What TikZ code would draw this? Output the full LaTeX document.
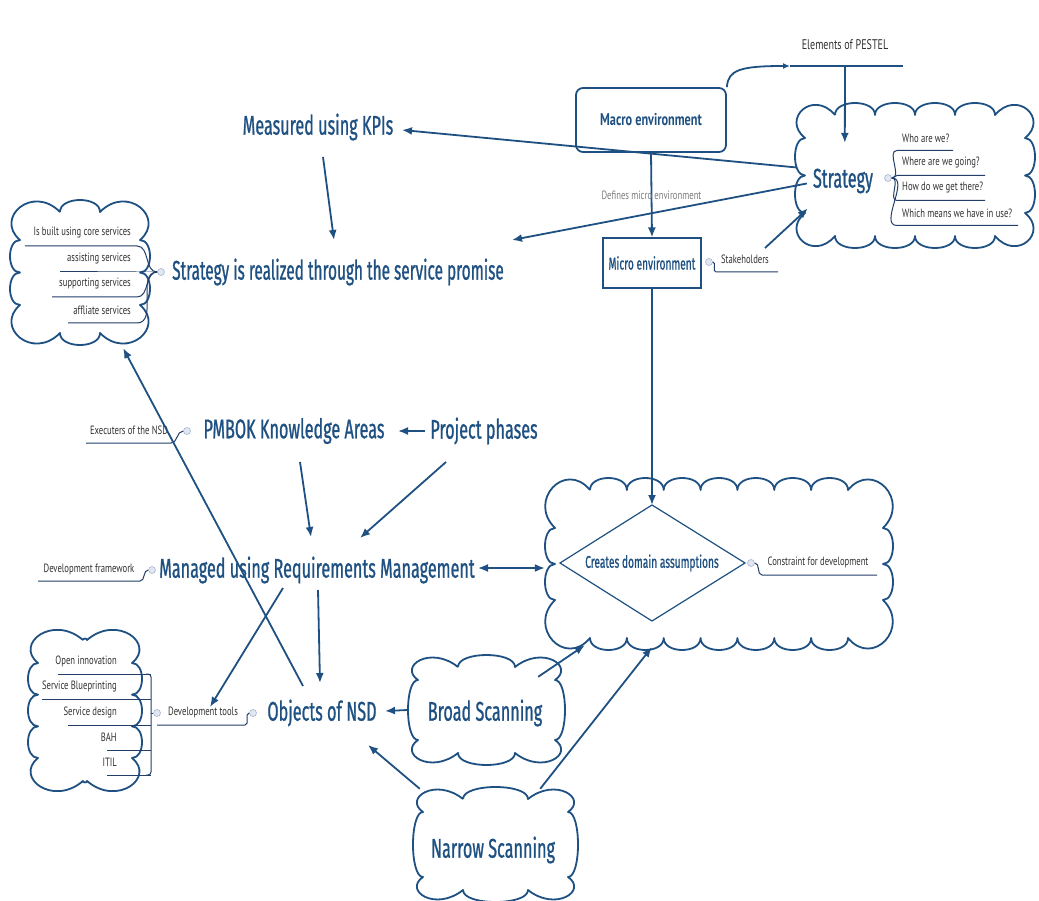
\documentclass[tikz,border=0pt]{standalone}
\usepackage{fontspec}
\setmainfont{PT Sans}
\newfontfamily\handfont[FakeStretch=0.6,FakeBold=0.8]{Fira Sans}
\newfontfamily\labelfont[FakeStretch=0.72]{PT Sans}
\usetikzlibrary{arrows.meta,calc}

\definecolor{ink}{RGB}{30,80,130}
\definecolor{leafink}{RGB}{35,62,105}
\definecolor{txt}{RGB}{50,50,50}
\definecolor{note}{RGB}{125,125,125}
\definecolor{knobline}{RGB}{170,182,205}
\definecolor{knobfill}{RGB}{225,231,242}

\tikzset{
  every node/.style={inner sep=2pt},
  cloudline/.style={draw=ink, line width=1.8pt, line join=round},
  cloudarea/.style={rectangle, inner sep=0pt, draw=none},
  arr/.style={draw=ink, line width=1.8pt, -{Latex[length=10pt,width=8pt]}},
  twoway/.style={draw=ink, line width=1.8pt, {Latex[length=10pt,width=8pt]}-{Latex[length=10pt,width=8pt]}},
  head/.style={text=ink, font=\handfont\fontsize{27}{27}\selectfont},
  midhead/.style={text=ink, font=\handfont\fontsize{17}{17}\selectfont},
  small/.style={text=txt, font=\labelfont\fontsize{12}{13}\selectfont},
  branch/.style={draw=leafink, line width=1pt},
  knob/.style={circle, draw=knobline, fill=knobfill, minimum size=7pt, inner sep=0pt, line width=0.6pt},
}

% scalloped outline whose bumps reach the box (#2,#3)-(#4,#5):
% #6 bumps along top/bottom, #7 bumps along the sides,
% #8 and #9 horizontal and vertical reach of the corner bumps
\newcommand\cloudbox[9]{%
  \pgfmathsetmacro\cxa{#2+#8}%
  \pgfmathsetmacro\cxb{#4-#8}%
  \pgfmathsetmacro\cya{#3+#9}%
  \pgfmathsetmacro\cyb{#5-#9}%
  \pgfmathsetmacro\cdx{(\cxb-\cxa)/#6}%
  \pgfmathsetmacro\cdy{(\cyb-\cya)/#7}%
  \pgfmathsetmacro\hh{4/3*min(12,0.35*\cdx)}%
  \pgfmathsetmacro\hv{4/3*min(10,0.35*\cdy)}%
  \pgfmathsetmacro\ty{#3+12}%
  \pgfmathsetmacro\by{#5-12}%
  \pgfmathsetmacro\lx{#2+10}%
  \pgfmathsetmacro\rx{#4-10}%
  \pgfmathsetmacro\cm{0.4*min(#8,#9)}%
  \pgfmathsetmacro\cbx{0.45*#8}%
  \pgfmathsetmacro\cby{0.45*#9}%
  \draw[cloudline] (\cxa,\ty)
    \foreach \i in {1,...,#6}{
      .. controls ({\cxa+(\i-1)*\cdx},{\ty-\hh}) and ({\cxa+\i*\cdx},{\ty-\hh}) .. ({\cxa+\i*\cdx},\ty)}
    .. controls ({#4-\cbx},{#3-\cm}) and ({#4+\cm},{#3+\cby}) .. (\rx,\cya)
    \foreach \i in {1,...,#7}{
      .. controls ({\rx+\hv},{\cya+(\i-1)*\cdy}) and ({\rx+\hv},{\cya+\i*\cdy}) .. (\rx,{\cya+\i*\cdy})}
    .. controls ({#4+\cm},{#5-\cby}) and ({#4-\cbx},{#5+\cm}) .. (\cxb,\by)
    \foreach \i in {1,...,#6}{
      .. controls ({\cxb-(\i-1)*\cdx},{\by+\hh}) and ({\cxb-\i*\cdx},{\by+\hh}) .. ({\cxb-\i*\cdx},\by)}
    .. controls ({#2+\cbx},{#5+\cm}) and ({#2-\cm},{#5-\cby}) .. (\lx,\cyb)
    \foreach \i in {1,...,#7}{
      .. controls ({\lx-\hv},{\cyb-(\i-1)*\cdy}) and ({\lx-\hv},{\cyb-\i*\cdy}) .. (\lx,{\cyb-\i*\cdy})}
    .. controls ({#2-\cm},{#3+\cby}) and ({#2+\cbx},{#3-\cm}) .. (\cxa,\ty);
  \node[cloudarea, minimum width={(#4-#2)*1pt}, minimum height={(#5-#3)*1pt}] (#1) at ({(#2+#4)/2},{(#3+#5)/2}) {};
}

\begin{document}
\begin{tikzpicture}[x=1pt,y=-1pt]
\useasboundingbox[fill=white] (0,0) rectangle (1039,901);

% ---------- cloud outlines ----------
\cloudbox{scl}{795}{103}{1035}{248}{4}{2}{40}{35}
\cloudbox{svc}{10}{200}{150}{345}{1}{2}{50}{40}
\cloudbox{dom}{545}{478}{893}{650}{7}{2}{45}{50}
\cloudbox{tools}{28}{628}{142}{793}{1}{3}{55}{35}
\cloudbox{broad}{408}{655}{565}{765}{1}{1}{50}{25}
\cloudbox{narrow}{413}{787}{578}{902}{1}{1}{50}{25}

% ---------- environment boxes ----------
\node[draw=ink, line width=1.8pt, rounded corners=7pt, minimum width=150pt, minimum height=64pt,
      text=ink, font=\labelfont\bfseries\fontsize{17}{17}\selectfont] (macro) at (651,120) {Macro environment};
\node[draw=ink, line width=1.2pt, minimum width=98pt, minimum height=50pt, midhead] (micro) at (652,263) {Micro environment};
\node[small, font=\labelfont\fontsize{14}{14}\selectfont] (pestel) at (845,45) {Elements of PESTEL};
\coordinate (pestelL) at (790,66);
\coordinate (pestelM) at (845,66);
\coordinate (pestelR) at (903,66);
\draw[draw=ink, line width=1.8pt] (pestelL) -- (pestelR);
\draw[arr, -{Latex[length=7pt,width=6pt]}] (macro.north east) .. controls (728,70) and (740,66) .. (pestelL);
\draw[arr] (pestelM) -- ($(scl.north west)+(50,40)$);
\draw[arr] (macro.south) -- node[small, text=note, pos=0.5] (defines) {Defines micro environment} (micro.north);

% stakeholders branch of the micro environment
\node[knob] (kmicro) at (709,262) {};
\node[small] (stake) at (745,259) {Stakeholders};
\coordinate (stakeA) at (716,272);
\coordinate (stakeB) at (778,272);
\draw[branch] (kmicro.east) to[out=0,in=180] (stakeA) -- (stakeB);
\draw[arr] ($(stake)+(20,-11)$) -- ($(scl.west)+(13,33)$);

% ---------- strategy ----------
\node[head] (strat) at (843,181) {Strategy};
\node[knob] (kstrat) at (888,178) {};
\foreach \t/\y/\e [count=\n] in {Who are we?/138/953, Where are we going?/163/985,
    How do we get there?/188/985, Which means we have in use?/213/1018}{
  \node[small, anchor=west] (q\n) at (900,\y) {\t};
  \draw[branch] (kstrat.east) to[out=0,in=180] (897,\y+12.5) -- (\e,\y+12.5);
}

% ---------- service promise ----------
\node[head] (kpi) at (318,127) {Measured using KPIs};
\node[head] (promise) at (338,272) {\scalebox{0.95}[1]{Strategy is realized through the service promise}};
\node[knob] (kpromise) at (161,272) {};
\foreach \t/\y/\s [count=\n] in {Is built using core services/233/25, assisting services/259/60,
    supporting services/284/52, affliate services/310/68}{
  \node[small, anchor=east] (svc\n) at (133,\y) {\t};
  \draw[branch] (\s,\y+13) -- (137,\y+13) to[out=0,in=180] (kpromise.west);
}
\draw[arr] ($(scl.west)+(2,-8)$) -- ($(kpi)+(84,3)$);
\draw[arr] ($(scl.west)+(12,8)$) -- ($(promise)+(174,-32)$);
\draw[arr] ($(kpi)+(5,30)$) -- ($(promise)+(-4,-32)$);

% ---------- project management ----------
\node[head] (pmbok) at (294,431) {PMBOK Knowledge Areas};
\node[head] (phases) at (484,431) {Project phases};
\node[knob] (kpmbok) at (187,431) {};
\node[small] (exec) at (129,430) {Executers of the NSD};
\draw[branch] (86,443) -- (171,443) to[out=0,in=180] (kpmbok.west);
\draw[arr] ($(phases)+(-59,0)$) -- ($(pmbok)+(104,0)$);

\node[head] (managed) at (317,570) {Managed using Requirements Management};
\node[knob] (kmanaged) at (152,570) {};
\node[small] (frame) at (89,569) {Development framework};
\draw[branch] (38,581) -- (140,581) to[out=0,in=180] (kmanaged.west);
\draw[arr] ($(pmbok)+(6,31)$) -- ($(managed)+(-6,-33)$);
\draw[arr] ($(phases)+(-38,31)$) -- ($(managed)+(43,-32)$);

% ---------- domain assumptions ----------
\node[midhead] (diam) at (652,563) {Creates domain assumptions};
\coordinate (diamtop) at ($(diam)+(0,-58)$);
\draw[draw=ink, line width=1.2pt] ($(diam)+(-92,0)$) -- (diamtop) -- ($(diam)+(93,0)$) -- ($(diam)+(0,58)$) -- cycle;
\node[knob] (kdiam) at (751,563) {};
\node[small] (constr) at (818,562) {Constraint for development};
\draw[branch] (kdiam.east) to[out=0,in=180] (762,575) -- (877,575);
\draw[arr] (micro.south) -- (diamtop);
\draw[twoway] ($(managed)+(161,-2)$) -- ($(dom.west)+(0,4)$);

% ---------- objects of NSD ----------
\node[head] (objects) at (322,713) {Objects of NSD};
\node[knob] (kobjects) at (253,713) {};
\node[small] (devtools) at (203,712) {Development tools};
\node[knob] (ktools) at (157,713) {};
\draw[branch] (157,725) -- (245,725) to[out=0,in=180] (kobjects.west);
\foreach \t/\y/\s [count=\n] in {Open innovation/661/58, Service Blueprinting/686/42,
    Service design/712/68, BAH/737/107, ITIL/762/107}{
  \node[small, anchor=east] (tool\n) at (119,\y) {\t};
  \draw[branch] (\s,\y+13) -- (151,\y+13);
}
\draw[branch, rounded corners=3pt] (146,674) -- (151,674) -- (151,775) -- (146,775);
\draw[branch] (151,713) -- (ktools.west);

\draw[arr] ($(managed)+(-34,18)$) -- ($(devtools)+(7,-5)$);
\draw[arr] ($(managed)+(1,20)$) -- ($(objects)+(-2,-30)$);
\draw[arr] ($(objects)+(-19,-27)$) -- ($(svc.south east)+(-27,3)$);

% ---------- scanning ----------
\node[head] (broadtxt) at (485,713) {Broad Scanning};
\node[head] (narrowtxt) at (493,850) {Narrow Scanning};
\draw[arr] (broad.west) -- ($(objects)+(63,-2)$);
\draw[arr] ($(broad.north east)+(-27,22)$) -- ($(dom.south west)+(40,-5)$);
\draw[arr] ($(narrow.north west)+(7,2)$) -- ($(objects)+(46,32)$);
\draw[arr] ($(narrow.north east)+(-38,2)$) -- ($(dom.south west)+(107,-3)$);
\end{tikzpicture}
\end{document}
